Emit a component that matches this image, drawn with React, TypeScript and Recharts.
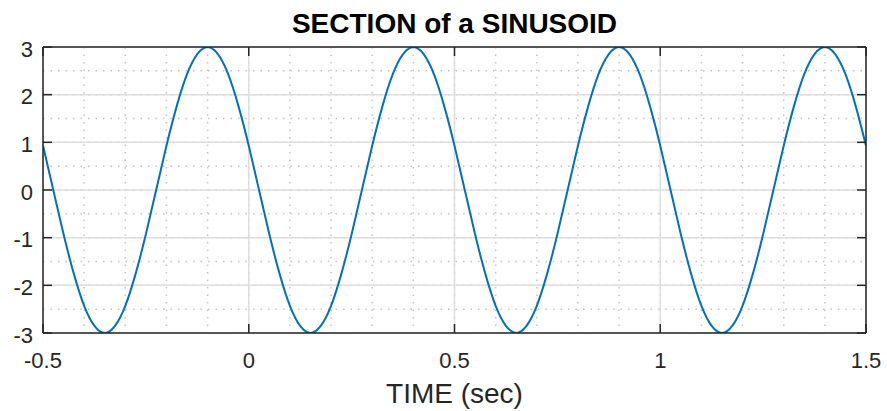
import React from 'react';
import { LineChart, Line, XAxis, YAxis, CartesianGrid, Label } from 'recharts';

const times: number[] = [
  -0.5, -0.475, -0.45, -0.425, -0.4, -0.375, -0.35, -0.325, -0.3, -0.275,
  -0.25, -0.225, -0.2, -0.175, -0.15, -0.125, -0.1, -0.075, -0.05, -0.025,
  0, 0.025, 0.05, 0.075, 0.1, 0.125, 0.15, 0.175, 0.2, 0.225,
  0.25, 0.275, 0.3, 0.325, 0.35, 0.375, 0.4, 0.425, 0.45, 0.475,
  0.5, 0.525, 0.55, 0.575, 0.6, 0.625, 0.65, 0.675, 0.7, 0.725,
  0.75, 0.775, 0.8, 0.825, 0.85, 0.875, 0.9, 0.925, 0.95, 0.975,
  1, 1.025, 1.05, 1.075, 1.1, 1.125, 1.15, 1.175, 1.2, 1.225,
  1.25, 1.275, 1.3, 1.325, 1.35, 1.375, 1.4, 1.425, 1.45, 1.475,
  1.5,
];

const amplitude: number[] = [
  0.93, 0, -0.93, -1.76, -2.43, -2.85, -3, -2.85, -2.43, -1.76,
  -0.93, 0, 0.93, 1.76, 2.43, 2.85, 3, 2.85, 2.43, 1.76,
  0.93, 0, -0.93, -1.76, -2.43, -2.85, -3, -2.85, -2.43, -1.76,
  -0.93, 0, 0.93, 1.76, 2.43, 2.85, 3, 2.85, 2.43, 1.76,
  0.93, 0, -0.93, -1.76, -2.43, -2.85, -3, -2.85, -2.43, -1.76,
  -0.93, 0, 0.93, 1.76, 2.43, 2.85, 3, 2.85, 2.43, 1.76,
  0.93, 0, -0.93, -1.76, -2.43, -2.85, -3, -2.85, -2.43, -1.76,
  -0.93, 0, 0.93, 1.76, 2.43, 2.85, 3, 2.85, 2.43, 1.76,
  0.93,
];

const xTicks: number[] = [-0.5, 0, 0.5, 1, 1.5];
const yTicks: number[] = [-3, -2, -1, 0, 1, 2, 3];
const xMinorTicks: number[] = [
  -0.5, -0.4, -0.3, -0.2, -0.1, 0, 0.1, 0.2, 0.3, 0.4, 0.5,
  0.6, 0.7, 0.8, 0.9, 1, 1.1, 1.2, 1.3, 1.4, 1.5,
];
const yMinorTicks: number[] = [-3, -2.5, -2, -1.5, -1, -0.5, 0, 0.5, 1, 1.5, 2, 2.5, 3];

const title = 'SECTION of a SINUSOID';
const xLabel = 'TIME (sec)';

const data = times.map((t, i) => ({ t, v: amplitude[i] }));

const FONT = '"Liberation Sans", Arial, Helvetica, sans-serif';
const AXIS = '#262626';
const TICK_LEN = 9;
const TICK_FONT = 22;
const axisLineStyle = { stroke: AXIS, strokeWidth: 1.5 };

const X_MARGIN = 19;
const Y_MARGIN = 10;

const BottomTick = (props: any) => {
  const { x, y, payload } = props;
  const axisY = y - X_MARGIN;
  return (
    <g>
      <line x1={x} x2={x} y1={axisY} y2={axisY - TICK_LEN} stroke={AXIS} strokeWidth={1.5} />
      <text x={x} y={y} dy="0.71em" textAnchor="middle" fill={AXIS} fontSize={TICK_FONT} fontFamily={FONT}>
        {String(payload.value)}
      </text>
    </g>
  );
};

const TopTick = (props: any) => {
  const { x, y } = props;
  return <line x1={x} x2={x} y1={y} y2={y + TICK_LEN} stroke={AXIS} strokeWidth={1.5} />;
};

const LeftTick = (props: any) => {
  const { x, y, payload } = props;
  const axisX = x + Y_MARGIN;
  return (
    <g>
      <line x1={axisX} x2={axisX + TICK_LEN} y1={y} y2={y} stroke={AXIS} strokeWidth={1.5} />
      <text x={x} y={y + 2} dy="0.355em" textAnchor="end" fill={AXIS} fontSize={TICK_FONT} fontFamily={FONT}>
        {String(payload.value)}
      </text>
    </g>
  );
};

const RightTick = (props: any) => {
  const { x, y } = props;
  return <line x1={x} x2={x - TICK_LEN} y1={y} y2={y} stroke={AXIS} strokeWidth={1.5} />;
};

export default function App() {
  return (
    <div style={{ position: 'absolute', left: 0, top: 0, width: 887, height: 411, background: '#fff', fontFamily: FONT }}>
      <LineChart width={887} height={411} data={data} margin={{ top: 17, right: 0, bottom: 0, left: 0 }}>
        <XAxis xAxisId="mx" type="number" dataKey="t" domain={[-0.5, 1.5]} ticks={xMinorTicks} hide allowDataOverflow />
        <YAxis yAxisId="my" type="number" dataKey="v" domain={[-3, 3]} ticks={yMinorTicks} hide allowDataOverflow />
        <CartesianGrid xAxisId="mx" yAxisId="my" stroke="#c4c4c4" strokeWidth={1.5} strokeDasharray="1.5 6" />
        <CartesianGrid stroke="#dedede" strokeWidth={1.5} />
        <XAxis
          type="number"
          dataKey="t"
          domain={[-0.5, 1.5]}
          ticks={xTicks}
          height={78}
          tickSize={0}
          tickMargin={X_MARGIN}
          tick={<BottomTick />}
          tickLine={false}
          axisLine={axisLineStyle}
          allowDataOverflow
        >
          <Label value={xLabel} position="insideBottom" offset={8} style={{ fill: AXIS, fontSize: 28, fontFamily: FONT }} />
        </XAxis>
        <XAxis
          xAxisId="top"
          orientation="top"
          type="number"
          dataKey="t"
          domain={[-0.5, 1.5]}
          ticks={xTicks}
          height={30}
          tickSize={0}
          tickMargin={0}
          tick={<TopTick />}
          tickLine={false}
          axisLine={axisLineStyle}
          allowDataOverflow
        />
        <YAxis
          type="number"
          dataKey="v"
          domain={[-3, 3]}
          ticks={yTicks}
          width={43}
          tickSize={0}
          tickMargin={Y_MARGIN}
          tick={<LeftTick />}
          tickLine={false}
          axisLine={axisLineStyle}
          allowDataOverflow
        />
        <YAxis
          yAxisId="right"
          orientation="right"
          type="number"
          dataKey="v"
          domain={[-3, 3]}
          ticks={yTicks}
          width={21}
          tickSize={0}
          tickMargin={0}
          tick={<RightTick />}
          tickLine={false}
          axisLine={axisLineStyle}
          allowDataOverflow
        />
        <Line type="natural" dataKey="v" stroke="#0072BD" strokeWidth={2} dot={false} isAnimationActive={false} />
      </LineChart>
      <div
        style={{
          position: 'absolute',
          top: 10,
          left: 43,
          width: 823,
          textAlign: 'center',
          fontSize: 28,
          lineHeight: '28px',
          fontWeight: 'bold',
          color: '#000',
          fontFamily: FONT,
        }}
      >
        {title}
      </div>
    </div>
  );
}
